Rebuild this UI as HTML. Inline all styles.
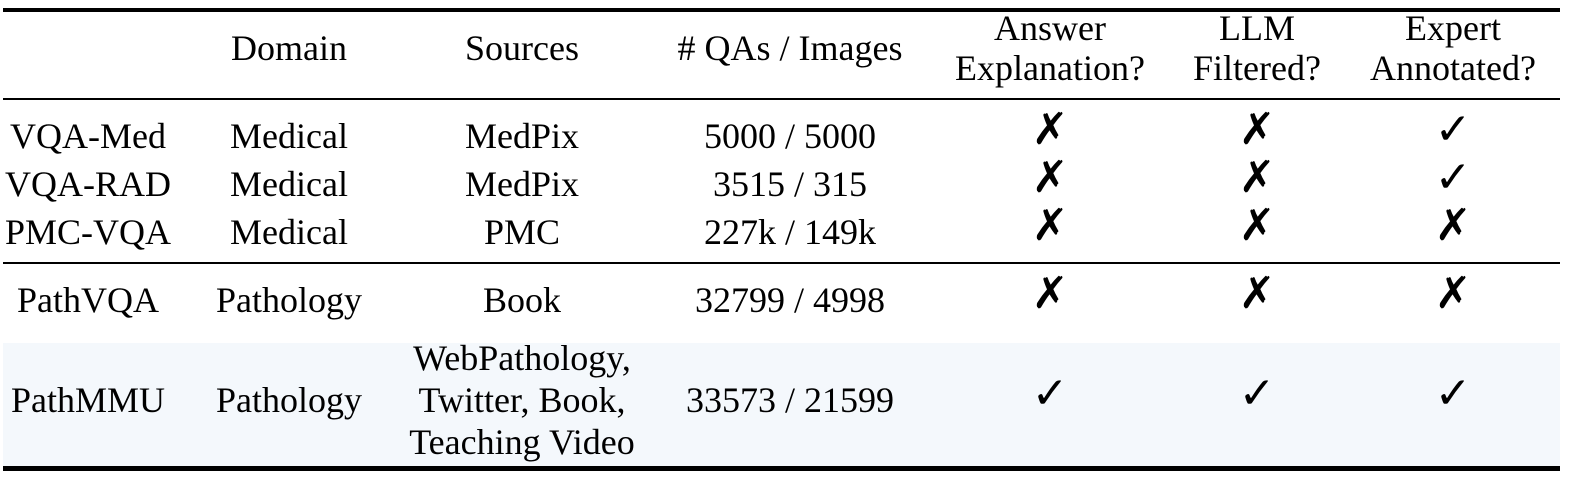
<!DOCTYPE html>
<html><head><meta charset="utf-8"><style>
body{margin:0;width:1584px;height:480px;background:#fff;position:relative;overflow:hidden;font-family:"Liberation Serif",serif;color:#000}
.t{position:absolute;transform:translate(-50%,-50%);white-space:nowrap;font-size:36px;line-height:42px;text-align:center}
.h{line-height:40px}
.s{font-family:"DejaVu Sans",sans-serif;font-size:44px;font-weight:bold}
.r{position:absolute;left:3px;width:1557px;background:#000}
</style></head><body>
<div style="position:absolute;left:3px;top:343px;width:1557px;height:125px;background:#f4f8fc"></div>
<div class="r" style="top:8px;height:4px"></div>
<div class="r" style="top:98px;height:2px"></div>
<div class="r" style="top:262px;height:2px"></div>
<div class="r" style="top:466px;height:5px"></div>
<div id="c"></div>
<script>
const cols=[88,289,522,790,1050,1257,1453];
const header=[["",""],["Domain"],["Sources"],["# QAs / Images"],["Answer","Explanation?"],["LLM","Filtered?"],["Expert","Annotated?"]];
const rows=[
["VQA-Med","Medical","MedPix","5000 / 5000","✗","✗","✓"],
["VQA-RAD","Medical","MedPix","3515 / 315","✗","✗","✓"],
["PMC-VQA","Medical","PMC","227k / 149k","✗","✗","✗"],
["PathVQA","Pathology","Book","32799 / 4998","✗","✗","✗"],
["PathMMU","Pathology","WebPathology,|Twitter, Book,|Teaching Video","33573 / 21599","✓","✓","✓"]];
const rowY=[136,184,232,300,400];
const c=document.getElementById('c');
function add(txt,x,y,cls,name){const d=document.createElement('div');d.className='t'+(cls?' '+cls:'');d.style.left=x+'px';d.style.top=y+'px';d.innerHTML=txt;


c.appendChild(d);}
header.forEach((h,i)=>{if(h.length===1)add(h[0],cols[i],48,'h','header-cell');else if(h[0])add(h.join('<br>'),cols[i],48,'h','header-cell');});
rows.forEach((r,j)=>r.forEach((v,i)=>{const sym=(v==='✗'||v==='✓');add(v.split('|').join('<br>'),cols[i],rowY[j]+(sym?-6:0),sym?'s':'',sym?'mark-cell':'data-cell');}));
</script>
</body></html>
